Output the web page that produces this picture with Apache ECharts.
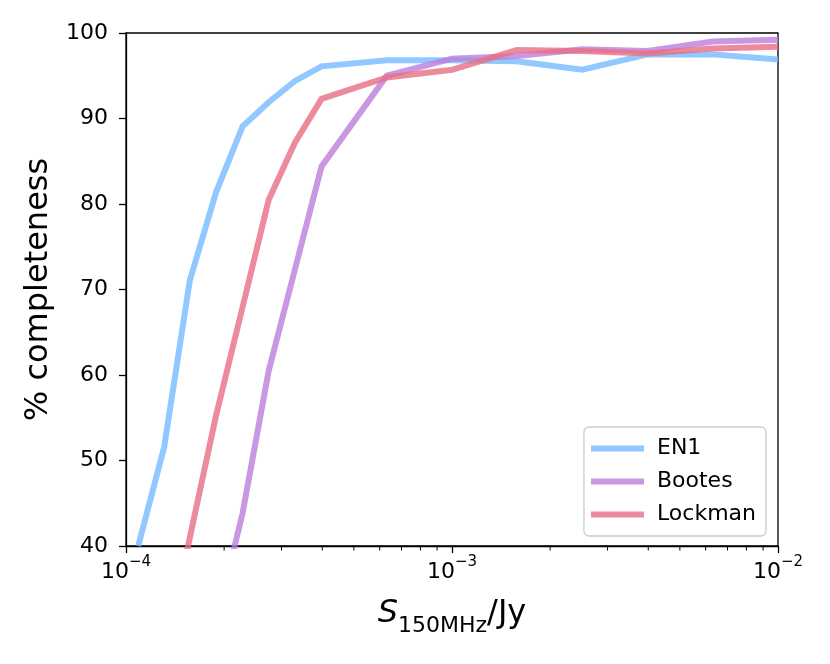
<!DOCTYPE html>
<html>
<head>
<meta charset="utf-8">
<script src="https://cdn.jsdelivr.net/npm/echarts@6/dist/echarts.min.js"></script>
<style>
html,body{margin:0;padding:0;background:#fff;}
#c{width:830px;height:664px;}
</style>
</head>
<body>
<div id="c"></div>
<script>
// flux bins (Jy)
const fluxJy = [1.09e-4, 1.31e-4, 1.57e-4, 1.89e-4, 2.28e-4, 2.74e-4, 3.30e-4, 3.98e-4, 6.31e-4, 1.0e-3, 1.58e-3, 2.51e-3, 3.98e-3, 6.31e-3, 1.0e-2];
// % completeness
const en1     = [40.0, 51.6, 71.1, 81.4, 89.1, 91.9, 94.4, 96.1, 96.8, 96.8, 96.7, 95.7, 97.5, 97.5, 96.9];
const bootes  = [null, null, null, 31.0, 43.9, 60.5, 72.4, 84.4, 95.0, 97.0, 97.3, 98.1, 97.9, 99.0, 99.2];
const lockman = [null, 27.0, 41.0, 55.3, 68.0, 80.5, 87.2, 92.3, 94.8, 95.7, 98.0, 97.9, 97.6, 98.2, 98.4];
const seriesNames = ['EN1', 'Bootes', 'Lockman'];
const yTicks = [40, 50, 60, 70, 80, 90, 100];
const xMajor = [1e-4, 1e-3, 1e-2];
const xMinorMult = [2, 3, 4, 5, 6, 7, 8, 9];

const colors = ['rgba(116,186,255,0.8)', 'rgba(189,125,220,0.8)', 'rgba(231,110,130,0.8)'];
const FONT = 'DejaVu Sans';

function pairs(ys) {
  const out = [];
  for (let i = 0; i < fluxJy.length; i++) if (ys[i] !== null) out.push([fluxJy[i], ys[i]]);
  return out;
}
const allSeries = [en1, bootes, lockman];

const chart = echarts.init(document.getElementById('c'), null, {renderer: 'canvas'});
const option = {
  animation: false,
  backgroundColor: '#fff',
  textStyle: {fontFamily: FONT},
  grid: {left: 126, right: 52, top: 33, bottom: 118, show: true, borderColor: '#000', borderWidth: 1.3, backgroundColor: 'transparent'},
  xAxis: {
    type: 'log', logBase: 10, min: xMajor[0], max: xMajor[xMajor.length - 1],
    splitLine: {show: false},
    axisLine: {show: true, lineStyle: {color: '#000', width: 1.3}},
    axisTick: {show: true, length: 7, lineStyle: {color: '#000', width: 1.3}},
    axisLabel: {
      color: '#000', margin: 9,
      formatter: function (v) {
        const e = Math.round(Math.log10(v));
        return '{b|10}{s|' + (e < 0 ? '\u2212' : '') + Math.abs(e) + '}';
      },
      rich: {
        b: {fontSize: 22, fontFamily: FONT, color: '#000', lineHeight: 28, verticalAlign: 'bottom'},
        s: {fontSize: 15, fontFamily: FONT, color: '#000', lineHeight: 28, verticalAlign: 'top'}
      }
    },
    name: '{i|S}{sub|150MHz}{n|/Jy}',
    nameLocation: 'middle', nameGap: 42,
    nameTextStyle: {
      rich: {
        i: {fontSize: 32, fontStyle: 'italic', fontFamily: FONT, color: '#000', lineHeight: 42, verticalAlign: 'bottom'},
        sub: {fontSize: 22, fontFamily: FONT, color: '#000', lineHeight: 42, verticalAlign: 'bottom', padding: [0, 0, -7, 0]},
        n: {fontSize: 32, fontFamily: FONT, color: '#000', lineHeight: 42, verticalAlign: 'bottom'}
      }
    }
  },
  yAxis: {
    type: 'value', min: yTicks[0], max: yTicks[yTicks.length - 1], interval: 10,
    splitLine: {show: false},
    axisLine: {show: true, lineStyle: {color: '#000', width: 1.3}},
    axisTick: {show: true, length: 7, lineStyle: {color: '#000', width: 1.3}},
    axisLabel: {color: '#000', fontSize: 22, fontFamily: FONT, margin: 18},
    name: '% completeness', nameLocation: 'middle', nameGap: 70, nameRotate: 90,
    nameTextStyle: {color: '#000', fontSize: 32, fontFamily: FONT}
  },
  legend: {
    orient: 'vertical', right: 64, bottom: 128,
    data: seriesNames,
    icon: 'rect', itemWidth: 53, itemHeight: 6, itemGap: 8,
    padding: [9, 10, 9, 7],
    backgroundColor: 'rgba(255,255,255,0.8)', borderColor: '#cccccc', borderWidth: 1.3, borderRadius: 5,
    textStyle: {fontSize: 22, fontFamily: FONT, color: '#000', lineHeight: 25, padding: [0, 0, 0, 8]}
  },
  series: seriesNames.map(function (n, i) {
    return {
      name: n, type: 'line', data: pairs(allSeries[i]), symbol: 'none', clip: true,
      color: colors[i],
      lineStyle: {width: 6, color: colors[i], join: 'miter', cap: 'butt'}
    };
  })
};
chart.setOption(option);

// minor ticks on the log x-axis, positioned through the axis scale
const minorEls = [];
const yBottom = chart.convertToPixel({yAxisIndex: 0}, yTicks[0]);
for (let d = 0; d < xMajor.length - 1; d++) {
  xMinorMult.forEach(function (m) {
    const v = xMajor[d] * m;
    const px = chart.convertToPixel({xAxisIndex: 0}, v);
    minorEls.push({type: 'line', shape: {x1: px, y1: yBottom, x2: px, y2: yBottom + 4.5}, style: {stroke: '#000', lineWidth: 1}, silent: true});
  });
}
chart.setOption({graphic: minorEls});
</script>
</body>
</html>
